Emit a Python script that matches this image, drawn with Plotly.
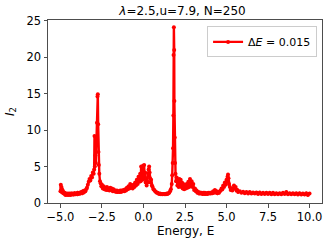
import plotly.graph_objects as go

energy = [
    -5.0, -4.98, -4.96, -4.94, -4.92, -4.90, -4.87, -4.84, -4.80, -4.75, -4.70,
    -4.65, -4.6, -4.55, -4.5, -4.45, -4.4, -4.35, -4.3, -4.25, -4.2, -4.15, -4.1,
    -4.05, -4.0, -3.95, -3.9, -3.85, -3.8, -3.75, -3.7, -3.65, -3.6, -3.55, -3.5,
    -3.45, -3.4, -3.35, -3.3, -3.25, -3.2, -3.15, -3.1, -3.05, -3.0, -2.97, -2.95,
    -2.93, -2.9, -2.87, -2.84, -2.8, -2.77, -2.75, -2.73, -2.71, -2.69, -2.66,
    -2.62, -2.58, -2.54, -2.5,
    -2.45, -2.4, -2.35, -2.3, -2.25, -2.2, -2.15, -2.1, -2.05, -2.0, -1.95, -1.9,
    -1.85, -1.8, -1.75, -1.7, -1.65, -1.6, -1.55, -1.5, -1.45, -1.4, -1.35, -1.3,
    -1.25, -1.2, -1.15, -1.1, -1.05, -1.0,
    -0.95, -0.9, -0.85, -0.8, -0.75, -0.7, -0.65, -0.6, -0.55, -0.5, -0.45, -0.4,
    -0.35, -0.3, -0.25, -0.2, -0.17, -0.14, -0.11, -0.08, -0.05, -0.02, 0.01, 0.04,
    0.07, 0.1, 0.13, 0.16, 0.19, 0.22, 0.25, 0.28, 0.31, 0.34, 0.37, 0.4, 0.43,
    0.46, 0.5, 0.55, 0.6,
    0.65, 0.7, 0.75, 0.8, 0.85, 0.9, 0.95, 1.0, 1.05, 1.1, 1.15, 1.2, 1.25, 1.3,
    1.35, 1.4, 1.45, 1.5, 1.55, 1.6, 1.65, 1.7,
    1.73, 1.76, 1.78, 1.8, 1.81, 1.83, 1.85, 1.86, 1.88, 1.9, 1.93, 1.96, 2.0,
    2.04, 2.08, 2.12, 2.16, 2.2, 2.24, 2.28, 2.32, 2.36, 2.4, 2.45, 2.5, 2.55,
    2.6, 2.65, 2.7, 2.75, 2.8, 2.85, 2.9, 2.95, 3.0, 3.05, 3.1, 3.15, 3.2, 3.25, 3.3,
    3.35, 3.4, 3.45, 3.5, 3.55, 3.6, 3.65, 3.7, 3.75, 3.8, 3.85, 3.9, 3.95, 4.0,
    4.05, 4.1, 4.15, 4.2, 4.25, 4.3, 4.35, 4.4, 4.45, 4.5, 4.55, 4.6,
    4.65, 4.7, 4.75, 4.8, 4.85, 4.9, 4.95, 5.0, 5.03, 5.06, 5.09, 5.12, 5.15, 5.2,
    5.25, 5.3, 5.35, 5.4, 5.45, 5.5, 5.55, 5.6, 5.65, 5.7,
    5.8, 5.9, 6.0, 6.1, 6.2, 6.3, 6.4, 6.5, 6.6, 6.7, 6.8, 6.9, 7.0, 7.1, 7.2, 7.3,
    7.4, 7.5, 7.6, 7.7, 7.8, 7.9, 8.0, 8.1, 8.2, 8.3, 8.4, 8.5, 8.6, 8.7, 8.8, 8.9,
    9.0, 9.1, 9.2, 9.3, 9.4, 9.5, 9.6, 9.7, 9.8, 9.9, 10.0,
]

i2 = [
    1.6, 2.5, 1.8, 2.2, 1.5, 1.9, 1.4, 1.6, 1.3, 1.4, 1.1,
    1.3, 1.1, 1.3, 1.1, 1.3, 1.1, 1.3, 1.15, 1.3, 1.15, 1.35, 1.2,
    1.35, 1.2, 1.4, 1.25, 1.4, 1.3, 1.5, 1.35, 1.6, 1.45, 1.7, 1.6,
    1.9, 2.1, 2.5, 2.9, 3.3, 3.1, 3.7, 3.5, 4.2, 4.0, 4.6, 9.2,
    5.0, 6.5, 5.5, 8.0, 11.0, 14.6, 14.9, 10.8, 7.0, 5.2, 4.0,
    3.0, 2.7, 2.3, 2.5,
    2.0, 2.3, 1.9, 2.1, 1.8, 2.2, 1.8, 2.0, 1.7, 2.1, 1.8, 2.0,
    1.6, 1.9, 1.6, 1.7, 1.5, 1.7, 1.5, 1.6, 1.5, 1.7, 1.5, 1.7,
    1.6, 1.8, 1.6, 1.9, 1.7, 2.1,
    1.9, 2.3, 2.0, 2.6, 2.2, 2.4, 2.0, 2.5, 2.2, 2.8, 2.4, 3.2,
    2.6, 3.6, 2.9, 4.0, 3.0, 5.0, 3.5, 4.8, 3.2, 5.1, 3.8, 5.2,
    3.4, 4.2, 2.8, 3.2, 2.4, 3.0, 2.8, 4.0, 4.6, 5.0, 4.2, 3.4, 2.8,
    3.2, 2.4, 2.2, 1.9,
    1.8, 1.6, 1.5, 1.4, 1.4, 1.3, 1.25, 1.3, 1.2, 1.25, 1.2, 1.25, 1.2, 1.25,
    1.2, 1.3, 1.25, 1.35, 1.4, 1.6, 1.9, 2.6,
    3.8, 5.5, 7.5, 12.0, 20.3, 24.1, 21.0, 14.0, 9.0, 5.5, 4.0, 3.0, 3.5,
    2.4, 3.0, 2.2, 3.3, 2.6, 3.2, 2.2, 2.8, 2.0, 2.6, 1.9, 2.4, 2.0,
    2.6, 2.1, 2.9, 2.2, 3.3, 2.4, 3.0, 2.2, 2.6, 1.8, 2.0, 1.6, 1.7, 1.4, 1.5,
    1.3, 1.45, 1.3, 1.4, 1.25, 1.4, 1.25, 1.4, 1.25, 1.35, 1.25, 1.4, 1.3, 1.4,
    1.3, 1.45, 1.35, 1.6, 1.4, 1.8, 1.45, 1.6, 1.35, 1.5, 1.4, 1.6,
    1.7, 2.0, 1.9, 2.4, 2.2, 2.8, 2.5, 3.2, 2.9, 3.6, 3.9, 3.4, 2.6, 2.2,
    1.8, 2.0, 1.7, 2.0, 2.4, 2.0, 2.2, 1.7, 1.8, 1.5,
    1.6, 1.4, 1.55, 1.35, 1.5, 1.3, 1.5, 1.3, 1.45, 1.3, 1.45, 1.25, 1.45, 1.25, 1.4, 1.25,
    1.4, 1.25, 1.4, 1.2, 1.4, 1.2, 1.35, 1.2, 1.35, 1.2, 1.4, 1.25, 1.5, 1.2, 1.35, 1.2,
    1.35, 1.2, 1.35, 1.15, 1.35, 1.15, 1.3, 1.15, 1.35, 1.1, 1.3,
]

x_ticks = [-5.0, -2.5, 0.0, 2.5, 5.0, 7.5, 10.0]
x_tick_labels = ["\u22125.0", "\u22122.5", "0.0", "2.5", "5.0", "7.5", "10.0"]
y_ticks = [0, 5, 10, 15, 20, 25]

FS = 12
font = dict(family="DejaVu Sans", size=FS, color="black")
axis_color = "#4d4d4d"

fig = go.Figure()
fig.add_trace(go.Scatter(
    x=energy, y=i2, mode="lines+markers",
    line=dict(color="red", width=2.4),
    marker=dict(color="red", size=4),
    name="\u0394<i>E</i> = 0.015",
))

fig.update_layout(
    width=332, height=241,
    margin=dict(l=42, r=9, t=20, b=38),
    paper_bgcolor="white", plot_bgcolor="white",
    font=font,
    title=dict(text="<i>\u03bb</i>=2.5,u=7.9, N=250", x=(42 + 323) / 2 / 332,
               xanchor="center", y=1 - 11 / 241, yanchor="middle",
               font=dict(family="DejaVu Sans", size=FS)),
    showlegend=True,
    legend=dict(x=0.982, y=0.965, xanchor="right", yanchor="top",
                bgcolor="white", bordercolor="#cccccc", borderwidth=1,
                font=dict(family="DejaVu Sans", size=11),
                itemwidth=30, tracegroupgap=0),
    annotations=[dict(text="Energy, E", xref="paper", yref="paper", x=0.5, y=0,
                      xanchor="center", yanchor="middle", yshift=-28,
                      showarrow=False, font=dict(family="DejaVu Sans", size=FS))],
)
fig.update_xaxes(
    range=[-5.75, 10.75], tickvals=x_ticks, ticktext=x_tick_labels,
    showgrid=False, zeroline=False, showline=True, linecolor=axis_color,
    linewidth=1, mirror=True, ticks="outside", ticklen=3.5, tickcolor=axis_color,
    tickfont=dict(family="DejaVu Sans", size=11.5),
)
fig.update_yaxes(
    range=[0, 25.1], tickvals=y_ticks,
    showgrid=False, zeroline=False, showline=True, linecolor=axis_color,
    linewidth=1, mirror=True, ticks="outside", ticklen=3.5, tickcolor=axis_color,
    tickfont=dict(family="DejaVu Sans", size=11.5),
    title=dict(text="<i>I</i><sub>2</sub>", standoff=9, font=dict(family="DejaVu Sans", size=FS)),
)

fig.write_html(
    "out.html",
    config={"displayModeBar": False},
    post_script="document.body.style.margin='0';document.body.style.overflow='hidden';",
)
